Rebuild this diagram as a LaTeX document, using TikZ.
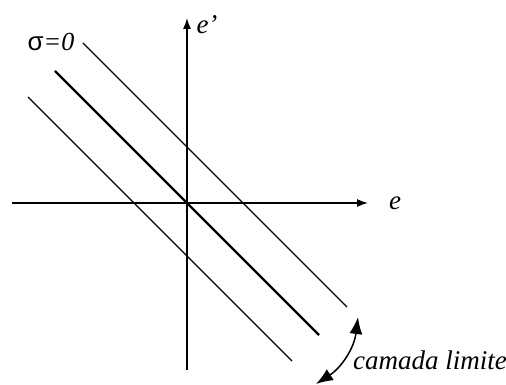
\documentclass[tikz,border=0pt]{standalone}
\usepackage{fontspec}
\setmainfont{Liberation Serif}
\newfontfamily\sigmafont{Liberation Sans}
\usepackage{tikz}
\usetikzlibrary{arrows.meta, positioning, calc}
\tikzset{
  axisline/.style={line width=1.4pt, -{Latex[length=11pt, width=8pt]}},
  isoline/.style={line width=1.4pt, line cap=butt},
  zeroline/.style={line width=2.4pt, line cap=butt},
  axislabel/.style={font=\fontsize{27}{31}\selectfont\itshape, inner sep=0pt},
}

\begin{document}
\begin{tikzpicture}[x=1pt, y=1pt]
    \useasboundingbox (-187,-182) rectangle (319,203);

    % axes
    \coordinate (origin) at (0,0);
    \coordinate (eleft) at (-175,0);
    \coordinate (eright) at (181,0);
    \coordinate (ebottom) at (0,-167);
    \coordinate (etop) at (0,185);
    \draw[axisline] (eleft) -- (eright);
    \draw[axisline] (ebottom) -- (etop);
    \node[axislabel] (elabel) at (208,0) {e};
    \node[axislabel] (eprime) at (20,178) {e’};

    % sigma lines (middle one is sigma=0)
    \coordinate (upA) at (-104,160);
    \coordinate (upB) at (160,-104);
    \coordinate (midA) at (-132,132);
    \coordinate (midB) at (132,-132);
    \coordinate (lowA) at (-159,106);
    \coordinate (lowB) at (105,-158);
    \draw[isoline] (upA) -- (upB);
    \draw[zeroline] (midA) -- (midB);
    \draw[isoline] (lowA) -- (lowB);
    \node[inner sep=0pt, font=\fontsize{26}{30}\selectfont] (sigma) at (-136,161)
      {{\sigmafont σ}\textit{=0}};

    % boundary layer
    \coordinate (camA) at (171,-114);
    \coordinate (camB) at (129,-181);
    \draw[line width=1.5pt, {Latex[length=17pt, width=13pt]}-{Latex[length=17pt, width=13pt]}]
      (camA) to[bend left=25] (camB);
    \node[axislabel, anchor=west] (camada) at (166,-157) {camada limite};
  \end{tikzpicture}
\end{document}
